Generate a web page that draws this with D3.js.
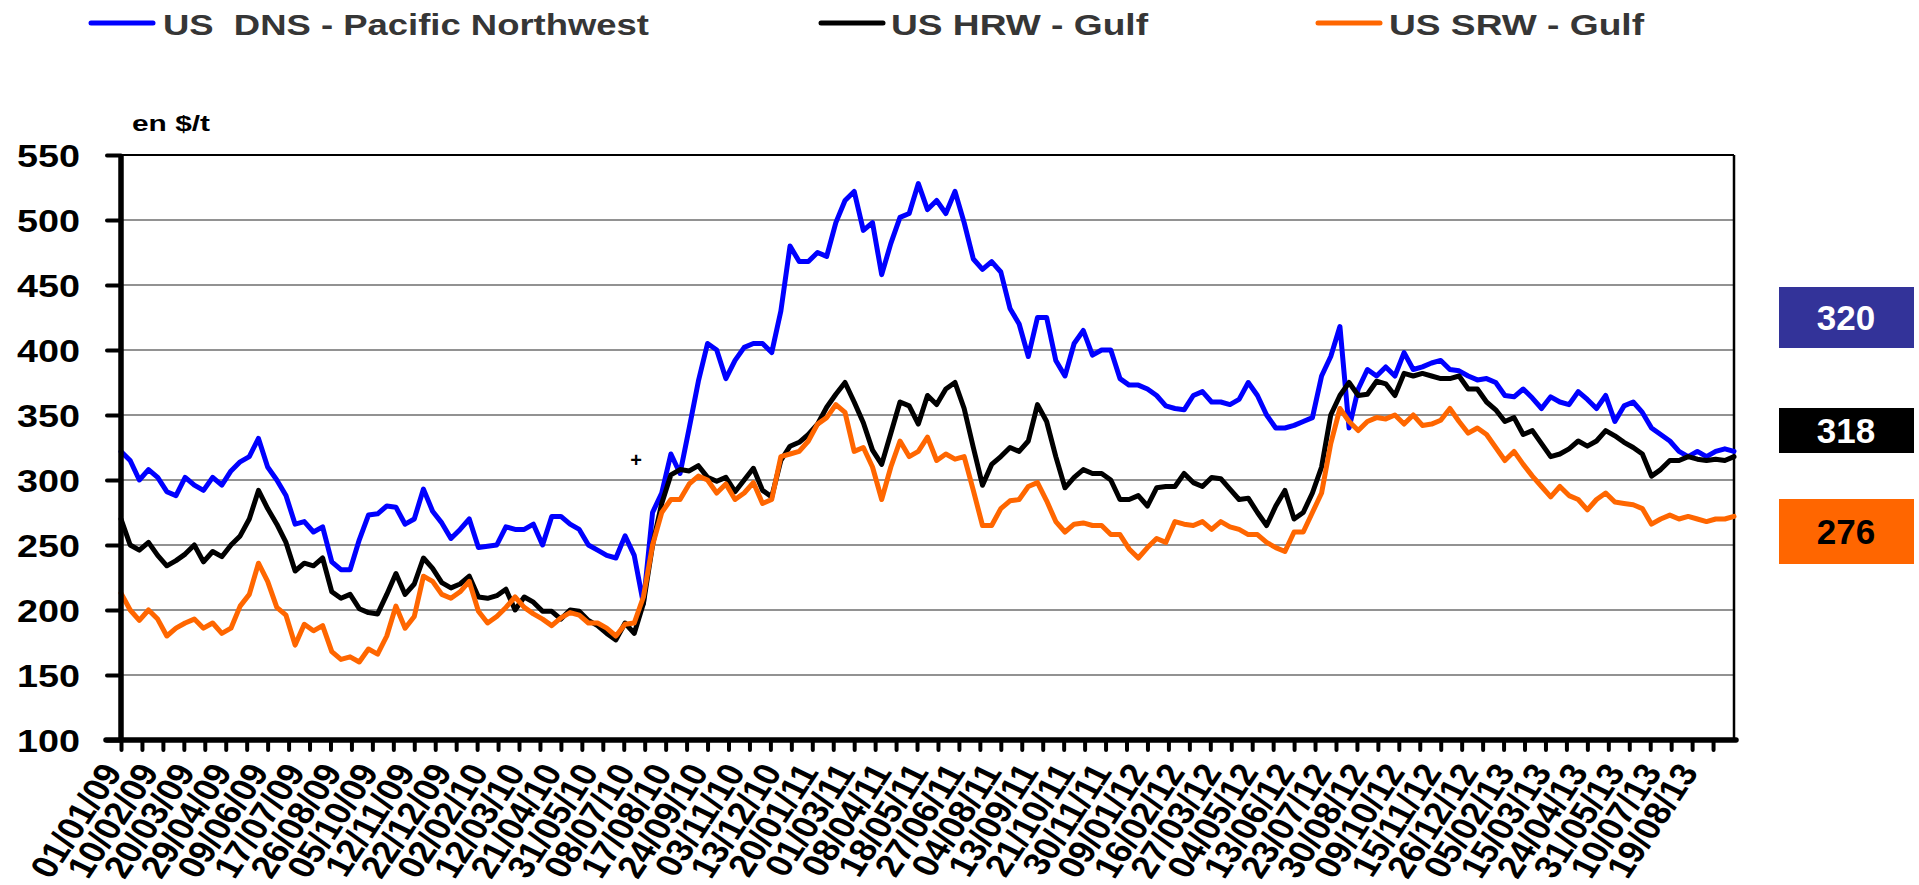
<!DOCTYPE html>
<html>
<head>
<meta charset="utf-8">
<script src="https://cdn.jsdelivr.net/npm/d3@7"></script>
<style>
  html, body { margin: 0; padding: 0; background: #fff; }
  svg { display: block; }
  text { font-family: "Liberation Sans", Arial, sans-serif; font-weight: bold; white-space: pre; }
</style>
</head>
<body>
<svg id="chart" width="1919" height="885"></svg>
<script>
const SAMPLE_STEP = 7;      // trading days between two samples
const LABEL_EVERY = 28;     // trading days between two date labels
const TICK_EVERY = 16;      // trading days between two tick marks
const N_DAYS = 1232;

const tickLabels = [
  "01/01/09","10/02/09","20/03/09","29/04/09","09/06/09","17/07/09","26/08/09","05/10/09","12/11/09","22/12/09",
  "02/02/10","12/03/10","21/04/10","31/05/10","08/07/10","17/08/10","24/09/10","03/11/10","13/12/10",
  "20/01/11","01/03/11","08/04/11","18/05/11","27/06/11","04/08/11","13/09/11","21/10/11","30/11/11",
  "09/01/12","16/02/12","27/03/12","04/05/12","13/06/12","23/07/12","30/08/12","09/10/12","15/11/12","26/12/12",
  "05/02/13","15/03/13","24/04/13","31/05/13","10/07/13","19/08/13"
];

const yTicks = [100,150,200,250,300,350,400,450,500,550];

const seriesNames = ["US  DNS - Pacific Northwest", "US HRW - Gulf", "US SRW - Gulf"];
const seriesColors = ["#0000FF", "#000000", "#FF6600"];

const dnsValues = [
  322,315,300,308,302,291,288,302,296,292, 302,296,307,314,318,332,310,300,288,266,
  268,260,264,237,231,231,254,273,274,280, 279,266,270,293,276,267,255,262,270,248,
  249,250,264,262,262,266,250,272,272,266, 262,250,246,242,240,257,242,
  205,275,290,320,305,340,376,405,400,378, 392,402,405,405,398,430,480,468,468,475,
  472,498,515,522,492,498,458,482,502,505, 528,508,515,505,522,498,470,462,468,460,
  432,420,395,425,425,392,380,405,415,396, 400,400,378,373,373,370,365,357,355,354,
  365,368,360,360,358,362,375,365,350,340, 340,342,345,348,380,395,418,340,370,385,
  380,387,380,398,385,387,390,392,385,384, 380,377,378,375,365,364,370,363,355,364,
  360,358,368,362,355,365,345,357,360,352, 340,335,330,322,318,322,318,322,324,322
];

const hrwValues = [
  270,250,246,252,242,234,238,243,250,237, 245,241,250,257,270,292,278,266,252,230,
  236,234,240,214,209,212,201,198,197,212, 228,212,220,240,232,221,217,220,226,210,
  209,211,216,200,210,206,199,199,193,200, 199,192,188,182,177,190,182,
  205,250,282,304,308,307,311,302,299,302, 291,300,309,292,287,315,326,329,335,343,
  356,366,375,360,344,323,312,336,360,357, 343,365,358,370,375,355,325,296,312,318,
  325,322,330,358,345,318,294,302,308,305, 305,300,285,285,288,280,294,295,295,305,
  298,295,302,301,293,285,286,275,265,280, 292,270,275,290,310,350,365,375,365,366,
  376,374,365,382,380,382,380,378,378,380, 370,370,360,354,345,348,335,338,328,318,
  320,324,330,326,330,338,334,329,325,320, 303,308,315,315,318,316,315,316,315,318
];

const srwValues = [
  213,200,192,200,193,180,186,190,193,186, 190,182,186,203,212,236,222,202,196,173,
  189,184,188,168,162,164,160,170,166,180, 203,186,195,226,222,212,209,214,222,199,
  190,195,202,210,202,197,193,188,194,198, 196,190,190,186,180,189,190,
  210,250,275,285,285,297,303,300,290,297, 285,290,298,282,285,318,320,322,330,343,
  348,358,352,322,325,310,285,310,330,318, 322,333,315,320,316,318,292,265,265,278,
  284,285,295,298,284,268,260,266,267,265, 265,258,258,247,240,248,255,252,268,266,
  265,268,262,268,264,262,258,258,252,248, 245,260,260,275,290,328,355,345,338,345,
  348,347,350,343,350,342,343,346,355,345, 336,340,335,325,315,322,312,303,295,287,
  295,288,285,277,285,290,283,282,281,278, 266,270,273,270,272,270,268,270,270,272
];

const lastValues = [320, 318, 276];
const boxFill = ["#333399", "#000000", "#FF6600"];
const boxText = ["#FFFFFF", "#FFFFFF", "#000000"];

// ---- Drawing ----
const svg = d3.select("#chart");
const x = d3.scaleLinear().domain([0, N_DAYS]).range([121, 1734]);
const y = d3.scaleLinear().domain([100, 550]).range([740, 155]);

// gridlines
svg.append("g").selectAll("line").data(yTicks.filter(v => v > 100)).join("line")
  .attr("x1", x(0)).attr("x2", x(N_DAYS))
  .attr("y1", d => y(d)).attr("y2", d => y(d))
  .attr("stroke", d => d === 550 ? "#000" : "#6e6e6e")
  .attr("stroke-width", d => d === 550 ? 2 : 1.6);

// right border
svg.append("line").attr("x1", x(N_DAYS)).attr("x2", x(N_DAYS))
  .attr("y1", y(550)).attr("y2", y(100))
  .attr("stroke", "#000").attr("stroke-width", 2.5);

// series lines
const allSeries = [dnsValues, hrwValues, srwValues];
const line = d3.line().x((d, i) => x(i * SAMPLE_STEP)).y(d => y(d));
allSeries.forEach((vals, s) => {
  svg.append("path").datum(vals)
    .attr("d", line)
    .attr("fill", "none")
    .attr("stroke", seriesColors[s])
    .attr("stroke-width", 5)
    .attr("stroke-linejoin", "round")
    .attr("stroke-linecap", "round");
});

// Y axis
const yAxis = d3.axisLeft(y).tickValues(yTicks).tickSize(14).tickFormat("");
const gy = svg.append("g").attr("transform", `translate(${x(0)},0)`).call(yAxis);
gy.select(".domain").remove();
gy.selectAll(".tick line").attr("stroke", "#000").attr("stroke-width", 4).attr("stroke-linecap", "round");
svg.append("line").attr("x1", x(0)).attr("x2", x(0)).attr("y1", y(550) - 1).attr("y2", y(100))
  .attr("stroke", "#000").attr("stroke-width", 5.5);

svg.append("g").selectAll("text").data(yTicks).join("text")
  .attr("transform", d => `translate(80,${y(d)}) scale(1.18,1)`)
  .attr("text-anchor", "end")
  .attr("dy", "0.36em")
  .attr("font-size", 32)
  .attr("fill", "#000")
  .text(d => d);

// X axis
const xTickVals = d3.range(0, N_DAYS, TICK_EVERY);
const xAxis = d3.axisBottom(x).tickValues(xTickVals).tickSize(10).tickFormat("");
const gx = svg.append("g").attr("transform", `translate(0,${y(100)})`).call(xAxis);
gx.select(".domain").remove();
gx.selectAll(".tick line").attr("stroke", "#000").attr("stroke-width", 4).attr("stroke-linecap", "round");
svg.append("line").attr("x1", 106).attr("x2", x(N_DAYS) + 2).attr("y1", y(100)).attr("y2", y(100))
  .attr("stroke", "#000").attr("stroke-width", 5.5).attr("stroke-linecap", "round");

svg.append("g").selectAll("text").data(tickLabels).join("text")
  .attr("transform", (d, k) => `translate(${x(k * LABEL_EVERY) + 2},772) scale(1.17,1) rotate(-60.5)`)
  .attr("text-anchor", "end")
  .attr("font-size", 32)
  .attr("fill", "#000")
  .text(d => d);

// unit label
svg.append("text").attr("x", 132).attr("y", 131)
  .attr("font-size", 22).attr("textLength", 78).attr("lengthAdjust", "spacingAndGlyphs")
  .attr("fill", "#000").text("en $/t");

// marker "+"
svg.append("text").attr("x", 636).attr("y", 460).attr("dy", "0.35em")
  .attr("text-anchor", "middle").attr("font-size", 20).attr("fill", "#000").text("+");

// legend
const legendLineX = [91, 821, 1318];
const legendTextX = [163, 891, 1389];
const legendTextW = [486, 257, 255];
seriesNames.forEach((name, s) => {
  svg.append("line").attr("x1", legendLineX[s]).attr("x2", legendLineX[s] + 62)
    .attr("y1", 23).attr("y2", 23)
    .attr("stroke", seriesColors[s]).attr("stroke-width", 5).attr("stroke-linecap", "round");
  svg.append("text").attr("x", legendTextX[s]).attr("y", 35)
    .attr("font-size", 29).attr("fill", "#363636")
    .attr("textLength", legendTextW[s]).attr("lengthAdjust", "spacingAndGlyphs")
    .text(name);
});

// latest value boxes
const boxY = [287, 408, 499];
const boxH = [61, 45, 65];
lastValues.forEach((v, s) => {
  svg.append("rect").attr("x", 1779).attr("y", boxY[s]).attr("width", 135).attr("height", boxH[s])
    .attr("fill", boxFill[s]);
  svg.append("text").attr("x", 1846).attr("y", boxY[s] + boxH[s] / 2).attr("dy", "0.36em")
    .attr("text-anchor", "middle").attr("font-size", 35).attr("fill", boxText[s]).text(v);
});
</script>
</body>
</html>
